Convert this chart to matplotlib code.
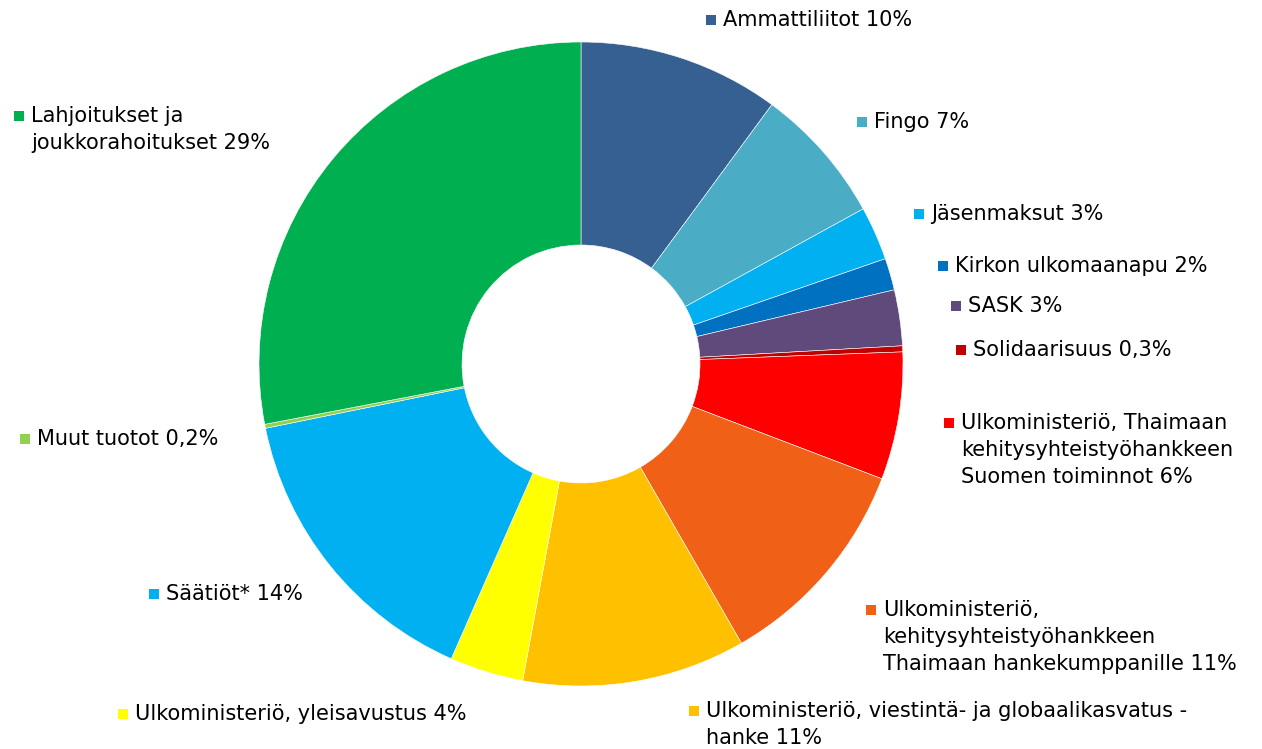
import matplotlib
matplotlib.use("Agg")
import matplotlib.pyplot as plt
from matplotlib.patches import Rectangle

# ---- data ----
labels = [
    "Ammattiliitot 10%",
    "Fingo 7%",
    "Jäsenmaksut 3%",
    "Kirkon ulkomaanapu 2%",
    "SASK 3%",
    "Solidaarisuus 0,3%",
    "Ulkoministeriö, Thaimaan\nkehitysyhteistyöhankkeen\nSuomen toiminnot 6%",
    "Ulkoministeriö,\nkehitysyhteistyöhankkeen\nThaimaan hankekumppanille 11%",
    "Ulkoministeriö, viestintä- ja globaalikasvatus -\nhanke 11%",
    "Ulkoministeriö, yleisavustus 4%",
    "Säätiöt* 14%",
    "Muut tuotot 0,2%",
    "Lahjoitukset ja\njoukkorahoitukset 29%",
]
values = [10.1, 6.9, 2.7, 1.6, 2.8, 0.3, 6.4, 10.9, 11.2, 3.7, 15.2, 0.2, 28.0]
colors = ["#376092", "#4BACC6", "#00B0F0", "#0070C0", "#604A7B", "#C00000",
          "#FF0000", "#F06016", "#FFC000", "#FFFF00", "#00B0F0", "#92D050", "#00B050"]

# label anchor positions (pixel coords, marker left x, first-line center y)
label_pos = [(706, 20), (857, 122), (914, 214), (938, 266), (951, 306), (956, 350),
             (944, 423), (866, 610), (689, 711), (118, 714), (149, 594), (20, 439), (14, 116)]

W, H = 1262, 749
fig = plt.figure(figsize=(W / 100, H / 100), dpi=100)
ax = fig.add_axes([0, 0, 1, 1])

cx, cy = 581, H - 364
R, r_in = 322, 119
ax.pie(values, colors=colors, startangle=90, counterclock=False,
       center=(cx, cy), radius=R, frame=True,
       wedgeprops=dict(width=R - r_in, edgecolor="white", linewidth=0.4))
ax.set_xlim(0, W)
ax.set_ylim(0, H)
ax.set_aspect("equal")
ax.axis("off")

fs = 15.0
line_h = 27
sq = 10
for lab, col, (x, y) in zip(labels, colors, label_pos):
    ax.add_patch(Rectangle((x, H - y - sq / 2), sq, sq, facecolor=col, edgecolor="none"))
    for i, line in enumerate(lab.split("\n")):
        ax.text(x + 17, H - (y + i * line_h), line, fontsize=fs, color="black",
                ha="left", va="center", family="DejaVu Sans")

fig.savefig("out.png", dpi=100)
